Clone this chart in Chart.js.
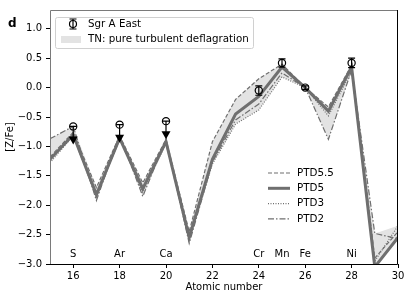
<!DOCTYPE html>
<html>
<head>
<meta charset="utf-8">
<script src="https://cdn.jsdelivr.net/npm/chart.js@4.4.1/dist/chart.umd.min.js"></script>
<style>
  html, body { margin: 0; padding: 0; background: #fff; }
  #wrap { width: 407px; height: 296px; }
</style>
</head>
<body>
<div id="wrap"><canvas id="abundChart" width="407" height="296"></canvas></div>
<script>
// ---- data ----
const atomicNumbers = [15, 16, 17, 18, 19, 20, 21, 22, 23, 24, 25, 26, 27, 28, 29, 30];
const ptd55 = [-1.18, -0.76, -1.70, -0.82, -1.62, -0.88, -2.45, -0.92, -0.20, 0.15, 0.40, 0.0, -0.33, 0.38, -2.90, -2.45];
const ptd5  = [-1.22, -0.80, -1.82, -0.86, -1.72, -0.92, -2.55, -1.22, -0.45, -0.15, 0.35, 0.0, -0.40, 0.35, -3.05, -2.55];
const ptd3  = [-1.28, -0.82, -1.86, -0.88, -1.78, -0.95, -2.58, -1.30, -0.62, -0.38, 0.18, 0.0, -0.48, 0.28, -2.95, -2.35];
const ptd2  = [-0.87, -0.66, -1.92, -0.80, -1.85, -0.88, -2.65, -1.27, -0.55, -0.28, 0.25, 0.0, -0.88, 0.30, -2.48, -2.57];

// Sgr A East observations
const obsZ     = [16, 18, 20, 24, 25, 26, 28];
const obsVal   = [-0.66, -0.63, -0.57, -0.05, 0.42, 0.0, 0.42];
const obsErr   = [0, 0, 0, 0.08, 0.07, 0.03, 0.08];
const obsUpper = [true, true, true, false, false, false, false];

// element names along the bottom
const elemZ     = [16, 18, 20, 24, 25, 26, 28];
const elemNames = ['S', 'Ar', 'Ca', 'Cr', 'Mn', 'Fe', 'Ni'];
const elemLabelY = -2.83;

const xTicks = [16, 18, 20, 22, 24, 26, 28, 30];
const yTicks = [-3.0, -2.5, -2.0, -1.5, -1.0, -0.5, 0.0, 0.5, 1.0];

// envelope of the four models (shaded band)
const bandTop = atomicNumbers.map((z, i) => Math.max(ptd55[i], ptd5[i], ptd3[i], ptd2[i]));
const bandBot = atomicNumbers.map((z, i) => Math.min(ptd55[i], ptd5[i], ptd3[i], ptd2[i]));

const FONT = 'DejaVu Sans';
const lineGrey = '#6f6f6f';
const bandGrey = '#e3e3e3';

function pts(arr) {
    return atomicNumbers.map((z, i) => ({ x: z, y: arr[i] }));
}
function minusFmt(v) {
    return v.toFixed(1).replace('-', '\u2212');
}

// ---- extra drawing: error bars, arrows, labels, legends ----
const extras = {
    id: 'extras',
    afterDatasetsDraw(chart) {
        const ctx = chart.ctx;
        const xs = chart.scales.x, ys = chart.scales.y;

        ctx.save();
        ctx.strokeStyle = '#000';
        ctx.fillStyle = '#000';
        ctx.lineWidth = 1.2;
        for (let i = 0; i < obsZ.length; i++) {
            const px = xs.getPixelForValue(obsZ[i]);
            const py = ys.getPixelForValue(obsVal[i]);
            if (obsUpper[i]) {
                // cap + down arrow
                ctx.beginPath();
                ctx.moveTo(px - 3.5, py); ctx.lineTo(px + 3.5, py);
                ctx.moveTo(px, py); ctx.lineTo(px, py + 11);
                ctx.stroke();
                ctx.beginPath();
                ctx.moveTo(px - 4.5, py + 10);
                ctx.lineTo(px + 4.5, py + 10);
                ctx.lineTo(px, py + 18);
                ctx.closePath();
                ctx.fill();
            } else {
                const yt = ys.getPixelForValue(obsVal[i] + obsErr[i]);
                const yb = ys.getPixelForValue(obsVal[i] - obsErr[i]);
                ctx.beginPath();
                ctx.moveTo(px, yt); ctx.lineTo(px, yb);
                ctx.moveTo(px - 3.5, yt); ctx.lineTo(px + 3.5, yt);
                ctx.moveTo(px - 3.5, yb); ctx.lineTo(px + 3.5, yb);
                ctx.stroke();
            }
        }

        // element labels
        ctx.font = '10px "' + FONT + '"';
        ctx.textAlign = 'center';
        ctx.textBaseline = 'middle';
        for (let i = 0; i < elemZ.length; i++) {
            ctx.fillText(elemNames[i], xs.getPixelForValue(elemZ[i]), ys.getPixelForValue(elemLabelY));
        }
        ctx.restore();
    },
    afterDraw(chart) {
        const ctx = chart.ctx;
        const ca = chart.chartArea;
        ctx.save();

        // frame
        ctx.lineWidth = 1;
        ctx.strokeStyle = '#7a7a7a';
        ctx.beginPath();
        ctx.moveTo(ca.left + 0.5, ca.bottom); ctx.lineTo(ca.left + 0.5, ca.top + 0.5); ctx.lineTo(ca.right, ca.top + 0.5);
        ctx.stroke();
        ctx.strokeStyle = '#000';
        ctx.beginPath();
        ctx.moveTo(ca.left, ca.bottom + 0.5); ctx.lineTo(ca.right - 0.5, ca.bottom + 0.5); ctx.lineTo(ca.right - 0.5, ca.top);
        ctx.stroke();

        // legend 1 (top-left, framed)
        const lx = ca.left + 5, ly = ca.top + 7, lw = 198, lh = 31;
        ctx.fillStyle = 'rgba(255,255,255,0.85)';
        ctx.strokeStyle = '#d0d0d0';
        ctx.lineWidth = 1;
        ctx.beginPath();
        ctx.roundRect(lx + 0.5, ly + 0.5, lw, lh, 2);
        ctx.fill();
        ctx.stroke();

        const sx = lx + 18, r1 = ly + 7, r2 = ly + 22;
        ctx.strokeStyle = '#000';
        ctx.lineWidth = 1.2;
        ctx.beginPath();
        ctx.moveTo(sx, r1 - 5); ctx.lineTo(sx, r1 + 5);
        ctx.moveTo(sx - 3.5, r1 - 5); ctx.lineTo(sx + 3.5, r1 - 5);
        ctx.moveTo(sx - 3.5, r1 + 5); ctx.lineTo(sx + 3.5, r1 + 5);
        ctx.stroke();
        ctx.beginPath();
        ctx.arc(sx, r1, 3.5, 0, Math.PI * 2);
        ctx.stroke();

        ctx.fillStyle = bandGrey;
        ctx.fillRect(sx - 12, r2 - 3, 20, 7);

        ctx.fillStyle = '#000';
        ctx.font = '10.3px "' + FONT + '"';
        ctx.textAlign = 'left';
        ctx.textBaseline = 'middle';
        ctx.fillText('Sgr A East', lx + 33, r1);
        ctx.fillText('TN: pure turbulent deflagration', lx + 33, r2);

        // legend 2 (model lines, no frame)
        const models = [
            { name: 'PTD5.5', dash: [4, 2], w: 1.2 },
            { name: 'PTD5', dash: [], w: 3 },
            { name: 'PTD3', dash: [1, 1.5], w: 1.2 },
            { name: 'PTD2', dash: [6, 2, 1.5, 2], w: 1.2 }
        ];
        const mx = 268, my = 173;
        ctx.strokeStyle = lineGrey;
        models.forEach((m, k) => {
            const yy = my + k * 15.3;
            ctx.lineWidth = m.w;
            ctx.setLineDash(m.dash);
            ctx.beginPath();
            ctx.moveTo(mx, yy); ctx.lineTo(mx + 22, yy);
            ctx.stroke();
            ctx.setLineDash([]);
            ctx.fillText(m.name, mx + 29, yy);
        });

        // panel letter
        ctx.font = 'bold 12px "' + FONT + '"';
        ctx.fillText('d', 8, 24);
        ctx.restore();
    }
};

Chart.defaults.font.family = FONT;
Chart.defaults.color = '#000';

const ctx = document.getElementById('abundChart').getContext('2d');
const chart = new Chart(ctx, {
    type: 'line',
    data: {
        datasets: [
            {
                label: 'Sgr A East', data: obsZ.map((z, i) => ({ x: z, y: obsVal[i] })),
                showLine: false, pointRadius: 3.6, pointBorderWidth: 1.2,
                pointBorderColor: '#000', pointBackgroundColor: 'rgba(0,0,0,0)'
            },
            { label: 'PTD5.5', data: pts(ptd55), borderColor: lineGrey, borderWidth: 1.2, borderDash: [4, 2], pointRadius: 0, fill: false },
            { label: 'PTD5', data: pts(ptd5), borderColor: lineGrey, borderWidth: 3, pointRadius: 0, fill: false },
            { label: 'PTD3', data: pts(ptd3), borderColor: lineGrey, borderWidth: 1.2, borderDash: [1, 1.5], pointRadius: 0, fill: false },
            { label: 'PTD2', data: pts(ptd2), borderColor: lineGrey, borderWidth: 1.2, borderDash: [6, 2, 1.5, 2], pointRadius: 0, fill: false },
            { label: 'band top', data: pts(bandTop), borderWidth: 0, pointRadius: 0, backgroundColor: bandGrey, fill: '+1' },
            { label: 'band bottom', data: pts(bandBot), borderWidth: 0, pointRadius: 0, fill: false }
        ]
    },
    options: {
        responsive: false,
        animation: false,
        layout: { padding: { top: 5, right: 9, left: 0, bottom: 0 } },
        plugins: {
            legend: { display: false },
            tooltip: { enabled: false },
            filler: { drawTime: 'beforeDatasetsDraw' }
        },
        scales: {
            x: {
                type: 'linear', min: 15, max: 30,
                afterBuildTicks: s => { s.ticks = xTicks.map(v => ({ value: v })); },
                afterFit: s => { s.height = 32; },
                grid: { drawOnChartArea: false, tickLength: 4, color: '#000' },
                border: { display: false },
                ticks: { font: { size: 10 }, padding: 2, maxRotation: 0, callback: v => String(v) },
                title: { display: true, text: 'Atomic number', font: { size: 10 }, padding: { top: 0, bottom: 3 } }
            },
            y: {
                type: 'linear', min: -3.0, max: 1.32,
                afterBuildTicks: s => { s.ticks = yTicks.map(v => ({ value: v })); },
                afterFit: s => { s.width = 50; },
                grid: { drawOnChartArea: false, tickLength: 4, color: '#000' },
                border: { display: false },
                ticks: { font: { size: 10 }, padding: 4, callback: v => minusFmt(v) },
                title: { display: true, text: '[Z/Fe]', font: { size: 10 }, padding: { top: 4, bottom: 0 } }
            }
        }
    },
    plugins: [extras]
});
</script>
</body>
</html>
